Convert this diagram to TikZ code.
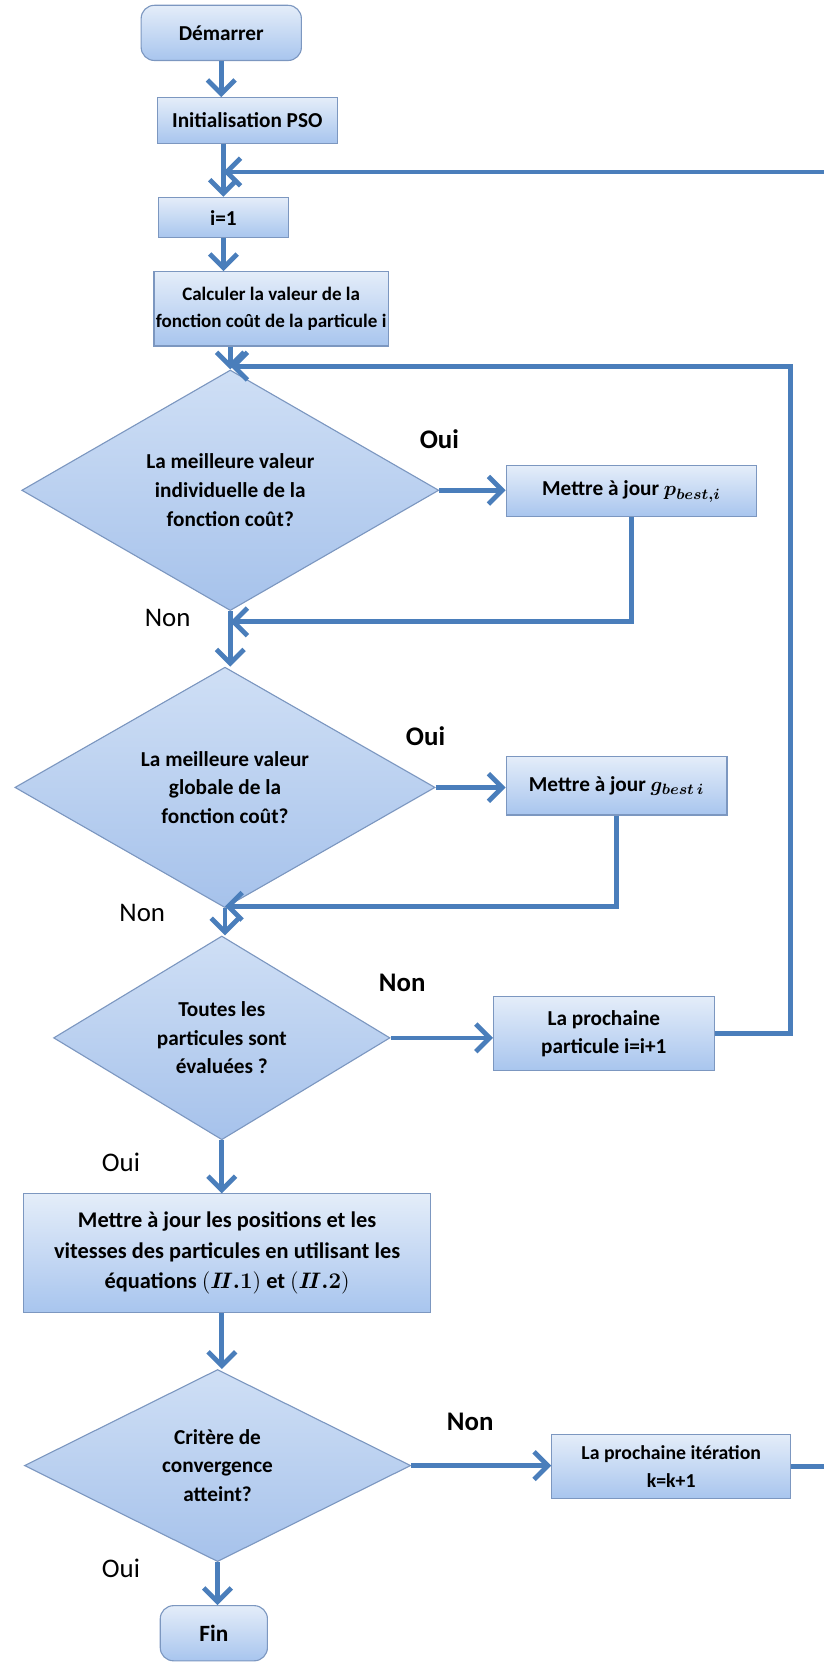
\documentclass[tikz,border=0pt]{standalone}
\usepackage{amsmath}
\usepackage{bm}
\usepackage{fontspec}
\setmainfont{Carlito}
\usetikzlibrary{arrows.meta,shapes.geometric}

\definecolor{flowblue}{HTML}{4A7EBB}
\definecolor{boxedge}{HTML}{7C97C0}
\definecolor{boxtop}{HTML}{E4EDF9}
\definecolor{boxbot}{HTML}{A8C5EE}
\definecolor{dectop}{HTML}{CFDFF5}
\definecolor{decbot}{HTML}{A6C2EB}

\begin{document}
\begin{tikzpicture}[x=0.2mm,y=-0.2mm,
        >={Straight Barb[length=2.6mm,width=5.2mm]},
        flow/.style={->,draw=flowblue,line width=0.9mm},
        box/.style={rectangle,draw=boxedge,line width=0.6pt,top color=boxtop,bottom color=boxbot,
                    align=center,inner sep=2pt,font=\bfseries\fontsize{11.4}{15.4}\selectfont},
        term/.style={box,rounded corners=2.5mm},
        dec/.style={diamond,draw=boxedge,line width=0.6pt,top color=dectop,bottom color=decbot,
                    align=center,inner sep=0pt,font=\bfseries\fontsize{11.4}{15.4}\selectfont},
        lbl/.style={font=\fontsize{14.4}{16}\selectfont},
        blbl/.style={lbl,font=\bfseries\fontsize{14.4}{16}\selectfont}]

  \useasboundingbox (0,0) rectangle (776,1568);

  \node[term,minimum width=30.2mm,minimum height=10.4mm] (start) at (208.5,31) {Démarrer};
  \node[box,minimum width=34mm,minimum height=8.6mm] (init) at (233,113.5) {Initialisation PSO};
  \node[box,minimum width=24.6mm,minimum height=7.6mm] (i_1) at (210.5,205) {i=1};
  \node[box,minimum width=43mm,minimum height=14mm,inner sep=1pt,
        font=\bfseries\fontsize{10.2}{14.4}\selectfont] (calc) at (255.5,291)
        {Calculer la valeur de la\\fonction coût de la particule i};

  \node[dec,minimum width=78.6mm,minimum height=35.2mm] (dec_1) at (217,462)
        {La meilleure valeur\\individuelle de la\\fonction coût?};
  \node[box,minimum width=47.2mm,minimum height=9.6mm] (pbest) at (595,463)
        {Mettre à jour $\boldsymbol{p_{best,i}}$};

  \node[dec,minimum width=79.2mm,minimum height=38mm] (dec_2) at (212,742)
        {La meilleure valeur\\globale de la\\fonction coût?};
  \node[box,minimum width=41.6mm,minimum height=11mm] (gbest) at (581,740.5)
        {Mettre à jour $\boldsymbol{g_{best\,i}}$};

  \node[dec,minimum width=63.4mm,minimum height=38.4mm] (dec_3) at (209,978)
        {Toutes les\\particules sont\\évaluées ?};
  \node[box,minimum width=41.6mm,minimum height=14mm] (next_p) at (569,974)
        {La prochaine\\particule i=i+1};

  \node[box,minimum width=76.8mm,minimum height=22.4mm,font=\bfseries\fontsize{12}{16.4}\selectfont]
        (update) at (214,1181)
        {Mettre à jour les positions et les\\vitesses des particules en utilisant les\\équations $(\boldsymbol{I\!I.1})$ et $(\boldsymbol{I\!I.2})$};

  \node[dec,minimum width=72.8mm,minimum height=36.2mm] (dec_4) at (205,1381)
        {Critère de\\convergence\\atteint?};
  \node[box,minimum width=45mm,minimum height=12mm,font=\bfseries\fontsize{10.6}{14.6}\selectfont]
        (next_k) at (632.5,1382) {La prochaine itération\\k=k+1};

  \node[term,minimum width=20.2mm,minimum height=10.4mm,font=\bfseries\fontsize{12.5}{15}\selectfont]
        (stop) at (201.5,1539) {Fin};

  % labels
  \node[blbl] (oui_1) at (414,414) {Oui};
  \node[lbl]  (non_1) at (158,582) {Non};
  \node[blbl] (oui_2) at (401,694) {Oui};
  \node[lbl]  (non_2) at (134,860) {Non};
  \node[blbl] (non_3) at (379,926) {Non};
  \node[lbl]  (oui_3) at (114,1095) {Oui};
  \node[blbl] (non_4) at (443,1340) {Non};
  \node[lbl]  (oui_4) at (114,1478) {Oui};

  \coordinate (loop_k) at (776,162);
  \coordinate (loop_p) at (745,345);
  \coordinate (join_1) at (217,586);
  \coordinate (join_2) at (212,854);
  \coordinate (out_k) at (776,1382);

  % main column
  \draw[flow] (start.south) -- (start.south |- init.north);
  \draw[flow] (i_1 |- init.south) -- (i_1);
  \draw[flow] (i_1) -- (i_1 |- calc.north);
  \draw[flow] (dec_1 |- calc.south) -- (dec_1.north);
  \draw[flow] (dec_1.south) -- (dec_1.south |- dec_2.north);
  \draw[flow] (dec_2.south) -- (dec_2.south |- dec_3.north);
  \draw[flow] (dec_3.south) -- (dec_3.south |- update.north);
  \draw[flow] (dec_3.south |- update.south) -- (dec_3.south |- dec_4.north);
  \draw[flow] (dec_4.south) -- (dec_4.south |- stop.north);

  % branches
  \draw[flow] (dec_1.east) -- (dec_1.east -| pbest.west);
  \draw[flow] (pbest.south) |- (join_1);
  \draw[flow] (dec_2.east) -- (dec_2.east -| gbest.west);
  \draw[flow] (gbest.south) |- (join_2);
  \draw[flow] (dec_3.east) -- (dec_3.east -| next_p.west);
  \draw[flow] (dec_4.east) -- (dec_4.east -| next_k.west);

  % loops
  \draw[flow] (next_p.east) -| (loop_p) -- (dec_1.north |- loop_p);
  \draw[flow] (loop_k) -- (i_1.center |- loop_k);
  \draw[flow,-] (next_k.east) -- (out_k);

\end{tikzpicture}
\end{document}
